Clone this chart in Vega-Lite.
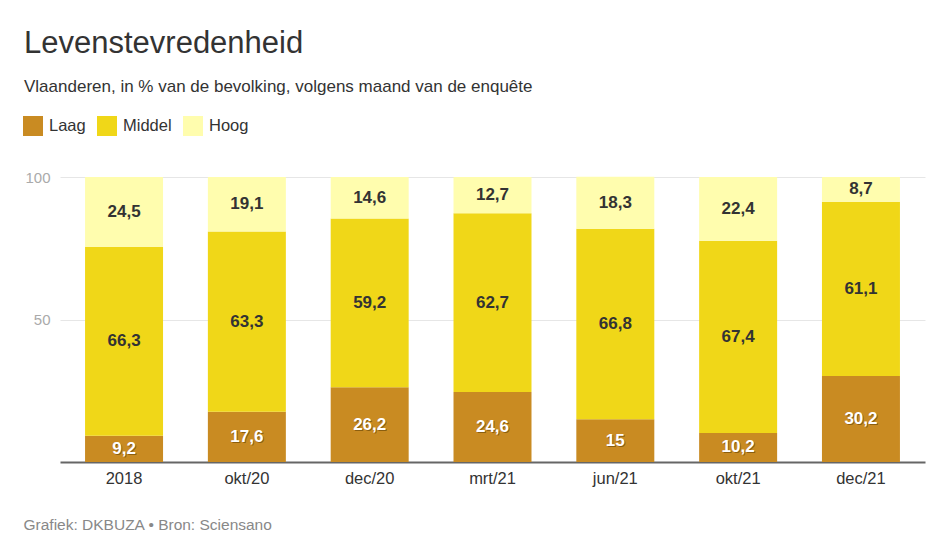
{
  "$schema": "https://vega.github.io/schema/vega-lite/v6.json",
  "autosize": {"type": "none"},
  "width": 865,
  "height": 285,
  "padding": {"left": 60, "top": 177, "right": 1, "bottom": 81},
  "background": "white",
  "config": {
    "font": "Liberation Sans",
    "view": {"stroke": null},
    "locale": {"number": {"decimal": ",", "thousands": ".", "grouping": [3], "currency": ["€", ""]}}
  },
  "title": {
    "text": "Levenstevredenheid",
    "subtitle": "Vlaanderen, in % van de bevolking, volgens maand van de enquête",
    "anchor": "start",
    "frame": "group",
    "dx": -36,
    "dy": -16,
    "fontSize": 31,
    "fontWeight": "normal",
    "color": "#333333",
    "subtitleFontSize": 17,
    "subtitleColor": "#333333",
    "subtitlePadding": 19
  },
  "data": {
    "values": [
      {"maand": "2018", "niveau": "Laag", "pct": 9.2},
      {"maand": "2018", "niveau": "Middel", "pct": 66.3},
      {"maand": "2018", "niveau": "Hoog", "pct": 24.5},
      {"maand": "okt/20", "niveau": "Laag", "pct": 17.6},
      {"maand": "okt/20", "niveau": "Middel", "pct": 63.3},
      {"maand": "okt/20", "niveau": "Hoog", "pct": 19.1},
      {"maand": "dec/20", "niveau": "Laag", "pct": 26.2},
      {"maand": "dec/20", "niveau": "Middel", "pct": 59.2},
      {"maand": "dec/20", "niveau": "Hoog", "pct": 14.6},
      {"maand": "mrt/21", "niveau": "Laag", "pct": 24.6},
      {"maand": "mrt/21", "niveau": "Middel", "pct": 62.7},
      {"maand": "mrt/21", "niveau": "Hoog", "pct": 12.7},
      {"maand": "jun/21", "niveau": "Laag", "pct": 15},
      {"maand": "jun/21", "niveau": "Middel", "pct": 66.8},
      {"maand": "jun/21", "niveau": "Hoog", "pct": 18.3},
      {"maand": "okt/21", "niveau": "Laag", "pct": 10.2},
      {"maand": "okt/21", "niveau": "Middel", "pct": 67.4},
      {"maand": "okt/21", "niveau": "Hoog", "pct": 22.4},
      {"maand": "dec/21", "niveau": "Laag", "pct": 30.2},
      {"maand": "dec/21", "niveau": "Middel", "pct": 61.1},
      {"maand": "dec/21", "niveau": "Hoog", "pct": 8.7}
    ]
  },
  "transform": [
    {"calculate": "datum.niveau === 'Laag' ? 0 : datum.niveau === 'Middel' ? 1 : 2", "as": "orde"},
    {"stack": "pct", "groupby": ["maand"], "sort": [{"field": "orde", "order": "ascending"}], "as": ["y0", "y1"]},
    {"calculate": "(datum.y0 + datum.y1) / 2", "as": "ymid"}
  ],
  "encoding": {
    "x": {
      "field": "maand",
      "type": "nominal",
      "sort": ["2018", "okt/20", "dec/20", "mrt/21", "jun/21", "okt/21", "dec/21"],
      "scale": {"paddingInner": 0.365, "paddingOuter": 0.204},
      "axis": {
        "labelAngle": 0,
        "labelFontSize": 16.5,
        "labelColor": "#333333",
        "labelPadding": 8,
        "ticks": false,
        "domainColor": "#666666",
        "domainWidth": 2,
        "title": "Grafiek: DKBUZA • Bron: Sciensano",
        "titleFontSize": 15.5,
        "titleFontWeight": "normal",
        "titleColor": "#888888",
        "titleAlign": "left",
        "titleBaseline": "middle",
        "titleX": -37,
        "titleY": 62
      }
    }
  },
  "layer": [
    {
      "mark": {"type": "bar"},
      "encoding": {
        "y": {
          "field": "y0",
          "type": "quantitative",
          "scale": {"domain": [0, 100]},
          "axis": {
            "values": [50, 100],
            "title": null,
            "domain": false,
            "ticks": false,
            "labelFontSize": 15,
            "labelColor": "#aaaaaa",
            "labelPadding": 10,
            "gridColor": "#e6e6e6",
            "gridWidth": 1
          }
        },
        "y2": {"field": "y1"},
        "color": {
          "field": "niveau",
          "type": "nominal",
          "sort": ["Laag", "Middel", "Hoog"],
          "scale": {"domain": ["Laag", "Middel", "Hoog"], "range": ["#C98B22", "#F0D718", "#FFFDAE"]},
          "legend": {
            "title": null,
            "orient": "none",
            "direction": "horizontal",
            "legendX": -37,
            "legendY": -61,
            "symbolType": "square",
            "symbolSize": 400,
            "symbolStrokeWidth": 0,
            "symbolOpacity": 1,
            "labelFontSize": 16.5,
            "labelColor": "#333333",
            "labelOffset": 6,
            "columnPadding": 11
          }
        }
      }
    },
    {
      "transform": [{"filter": "datum.niveau === 'Laag'"}],
      "mark": {"type": "text", "fontSize": 17, "fontWeight": "bold", "baseline": "middle", "align": "center", "dx": 1, "dy": 1, "color": "#5a3a00", "opacity": 0.55},
      "encoding": {
        "y": {"field": "ymid", "type": "quantitative"},
        "text": {"field": "pct", "type": "quantitative", "format": ".1~f"}
      }
    },
    {
      "mark": {"type": "text", "fontSize": 17, "fontWeight": "bold", "baseline": "middle", "align": "center"},
      "encoding": {
        "y": {"field": "ymid", "type": "quantitative"},
        "text": {"field": "pct", "type": "quantitative", "format": ".1~f"},
        "color": {
          "condition": {"test": "datum.niveau === 'Laag'", "value": "#ffffff"},
          "value": "#333333"
        }
      }
    }
  ]
}
